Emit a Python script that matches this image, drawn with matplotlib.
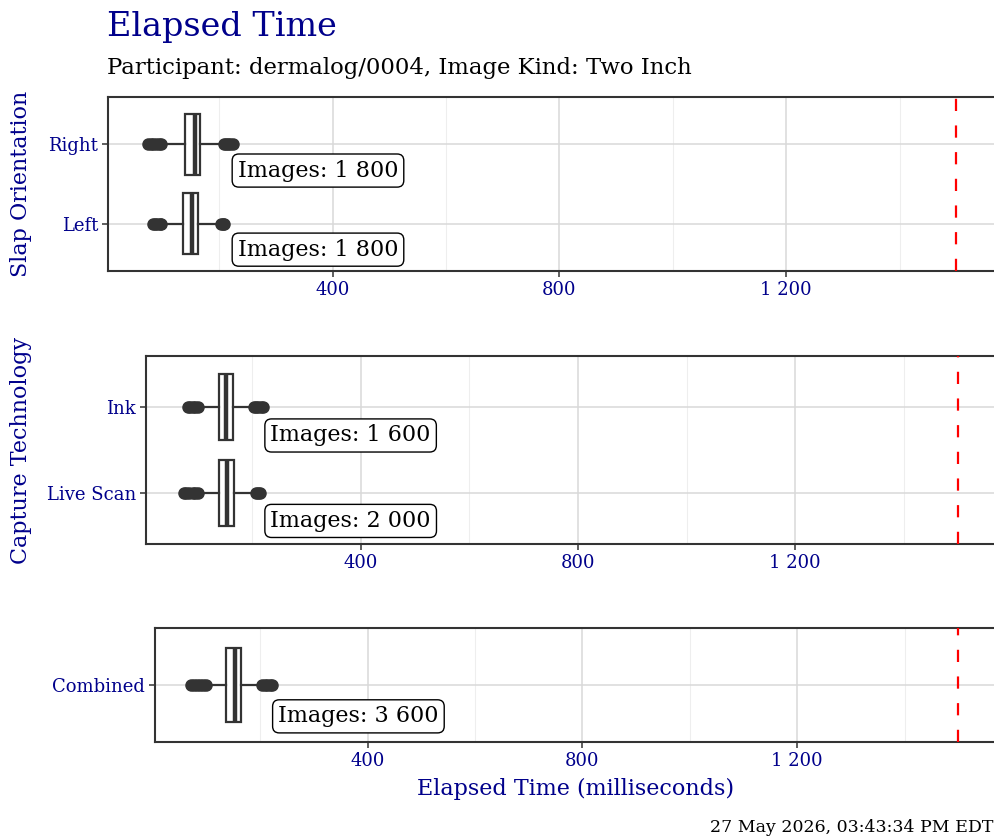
import numpy as np
import matplotlib
matplotlib.use('Agg')
import matplotlib.pyplot as plt
from matplotlib.ticker import FixedLocator, FuncFormatter

plt.rcParams['font.family'] = ['DejaVu Serif']

# data (milliseconds)
slap_cats = ['Left', 'Right']
slap_counts = [1800, 1800]
slap_stats = [
    # q1, med, q3, whislo, whishi
    (136, 153, 163, 108, 194),
    (139, 158, 167, 106, 199),
]
slap_fliers = [
    ([83, 87, 91, 95, 97], [203, 206, 209]),
    ([74, 79, 84, 89, 94, 98], [208, 212, 216, 220, 224]),
]

tech_cats = ['Live Scan', 'Ink']
tech_counts = [2000, 1600]
tech_stats = [
    (139, 153, 166, 107, 197),
    (138, 151, 164, 108, 192),
]
tech_fliers = [
    ([74, 78, 84, 90, 95, 99], [206, 210, 214]),
    ([81, 85, 90, 95, 100], [203, 207, 211, 215, 219]),
]

comb_cats = ['Combined']
comb_counts = [3600]
comb_stats = [(137, 153, 165, 108, 194)]
comb_fliers = [([71, 76, 82, 88, 94, 99], [203, 208, 213, 218, 222])]

threshold = 1500
x_limits = (4, 1571)
major_ticks = [400, 800, 1200]
minor_ticks = [200, 600, 1000, 1400]

navy = '#00008B'
dark = '#333333'

W, H = 995, 840
fig = plt.figure(figsize=(W / 100, H / 100), dpi=100)


def fmt(v, pos=None):
    return '{:,}'.format(int(v)).replace(',', ' ')


def panel(box, cats, stats, fliers, counts, ylabel=None, xlabel=None):
    left, top, bottom = box
    right = 996.5
    ax = fig.add_axes([left / W, 1 - bottom / H, (right - left) / W, (bottom - top) / H])
    bxp = []
    for (q1, med, q3, lo, hi), (fl, fh) in zip(stats, fliers):
        bxp.append(dict(q1=q1, med=med, q3=q3, whislo=lo, whishi=hi,
                        fliers=np.array(fl + fh)))
    pos = np.arange(1, len(cats) + 1)
    ax.bxp(bxp, positions=pos, vert=False, widths=0.77, patch_artist=True,
           showcaps=False,
           boxprops=dict(facecolor='white', edgecolor=dark, linewidth=1.6),
           medianprops=dict(color=dark, linewidth=3.2),
           whiskerprops=dict(color=dark, linewidth=1.6),
           flierprops=dict(marker='o', markerfacecolor=dark, markeredgecolor=dark,
                           markersize=8), zorder=3)
    ax.axvline(threshold, color='red', linestyle=(0, (5.5, 6.5)), linewidth=1.6, zorder=4)
    for p, n in zip(pos, counts):
        ax.annotate('Images: ' + fmt(n), xy=(223, p - 0.33), xytext=(4, 0),
                    textcoords='offset points', ha='left', va='center',
                    fontsize=16, color='black', zorder=5,
                    bbox=dict(boxstyle='round,pad=0.25,rounding_size=0.3',
                              facecolor='white', edgecolor='black', linewidth=1))
    ax.set_xlim(*x_limits)
    ax.set_ylim(0.4, len(cats) + 0.6)
    ax.xaxis.set_major_locator(FixedLocator(major_ticks))
    ax.xaxis.set_minor_locator(FixedLocator(minor_ticks))
    ax.xaxis.set_major_formatter(FuncFormatter(fmt))
    ax.set_yticks(pos)
    ax.set_yticklabels(cats)
    ax.grid(True, which='major', color='#D9D9D9', linewidth=1.1, zorder=0)
    ax.grid(True, which='minor', axis='x', color='#EEEEEE', linewidth=0.8, zorder=0)
    ax.set_axisbelow(True)
    ax.tick_params(which='major', length=4, width=1.1, color=dark, labelcolor=navy,
                   labelsize=13, pad=3)
    ax.tick_params(which='minor', length=0)
    for s in ax.spines.values():
        s.set_color(dark)
        s.set_linewidth(1.5)
    if ylabel:
        ax.set_ylabel(ylabel, color=navy, fontsize=16, va='center', ha='center')
        ax.yaxis.set_label_coords(-(left - 21) / (right - left), 0.5)
    if xlabel:
        ax.set_xlabel(xlabel, color=navy, fontsize=16, labelpad=6)
    return ax


ax1 = panel((108, 97, 271), slap_cats, slap_stats, slap_fliers, slap_counts,
            ylabel='Slap Orientation')
ax2 = panel((146, 356, 544), tech_cats, tech_stats, tech_fliers, tech_counts,
            ylabel='Capture Technology')
ax3 = panel((155, 628, 742), comb_cats, comb_stats, comb_fliers, comb_counts,
            xlabel='Elapsed Time (milliseconds)')

fig.text(107 / W, 1 - 27 / H, 'Elapsed Time', color=navy, fontsize=24,
         ha='left', va='center')
fig.text(107 / W, 1 - 68 / H, 'Participant: dermalog/0004, Image Kind: Two Inch',
         color='black', fontsize=16.4, ha='left', va='center')
fig.text(993 / W, 1 - 828 / H, '27 May 2026, 03:43:34 PM EDT', color='black',
         fontsize=12.5, ha='right', va='center')

fig.savefig('out.png', dpi=100)
